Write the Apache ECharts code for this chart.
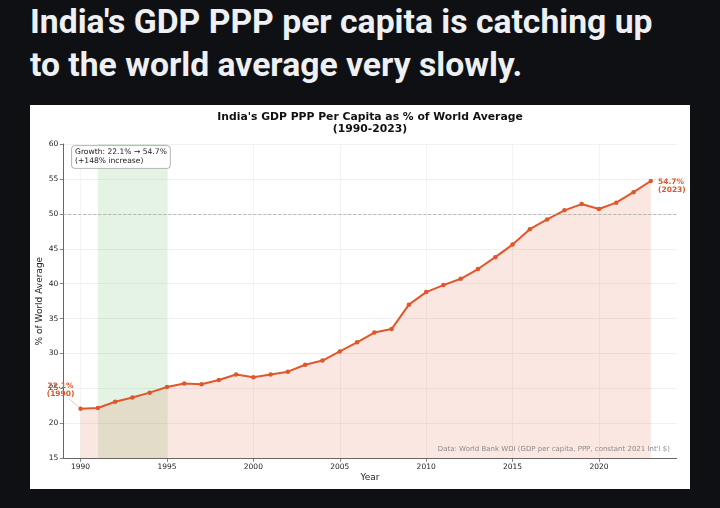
<!DOCTYPE html>
<html>
<head>
<meta charset="utf-8">
<script src="https://cdn.jsdelivr.net/npm/echarts@6/dist/echarts.min.js"></script>
<style>
  html, body { margin:0; padding:0; background:#0e1013; width:720px; height:508px; overflow:hidden; }
  #headline { position:absolute; left:30px; top:0px; width:690px; color:#eef0f3; white-space:nowrap;
    font-family: Roboto, "Noto Sans", sans-serif; font-weight:700; font-size:33.7px; line-height:43px; }
  #panel { position:absolute; left:30px; top:105px; width:660px; height:384px; background:#ffffff; }
  #chart { width:660px; height:384px; }
</style>
</head>
<body>
<div id="headline">India's GDP PPP per capita is catching up<br>to the world average very slowly.</div>
<div id="panel"><div id="chart"></div></div>
<script>
const years = [1990,1991,1992,1993,1994,1995,1996,1997,1998,1999,2000,2001,2002,2003,2004,2005,2006,2007,2008,2009,2010,2011,2012,2013,2014,2015,2016,2017,2018,2019,2020,2021,2022,2023];
const sharePct = [22.1,22.2,23.1,23.7,24.4,25.2,25.7,25.6,26.2,27.0,26.6,27.0,27.4,28.4,29.0,30.3,31.6,33.0,33.5,37.0,38.8,39.8,40.7,42.1,43.8,45.6,47.8,49.2,50.5,51.4,50.7,51.6,53.1,54.7];
const xTicks = [1990,1995,2000,2005,2010,2015,2020];
const highlightYears = [1991,1995];
const referenceLevel = 50;
const startLabel = '22.1%\n(1990)';
const endLabel = '54.7%\n(2023)';
const growthNote = 'Growth: 22.1% \u2192 54.7%\n(+148% increase)';
const chartTitle = "India's GDP PPP Per Capita as % of World Average\n(1990-2023)";
const sourceNote = "Data: World Bank WDI (GDP per capita, PPP, constant 2021 Int'l $)";

const lineColor = '#e0572b';
const font = '"DejaVu Sans", sans-serif';

const seriesData = years.map((y, i) => {
  const item = { value: [y, sharePct[i]] };
  if (i === 0) {
    item.label = { show: true, formatter: startLabel, position: 'top', offset: [-20, -3],
      color: lineColor, fontFamily: font, fontSize: 7.5, fontWeight: 'bold', lineHeight: 8.5, align: 'center' };
  }
  if (i === years.length - 1) {
    item.label = { show: true, formatter: endLabel, position: 'right', offset: [0, 5],
      color: lineColor, fontFamily: font, fontSize: 7.5, fontWeight: 'bold', lineHeight: 8.5, align: 'left' };
  }
  return item;
});

const chart = echarts.init(document.getElementById('chart'), null, { renderer: 'canvas' });
chart.setOption({
  backgroundColor: '#ffffff',
  animation: false,
  grid: { left: 33.3, right: 13.3, top: 39, bottom: 30.7, containLabel: false, outerBoundsMode: 'none' },
  xAxis: {
    type: 'value', min: 1989, max: 2024.5,
    name: 'Year', nameLocation: 'middle', nameGap: 15, nameMoveOverlap: false,
    nameTextStyle: { fontFamily: font, fontSize: 9, color: '#222' },
    axisLine: { show: true, lineStyle: { color: '#666', width: 1 } },
    axisTick: { show: true, customValues: xTicks, length: 3.5, lineStyle: { color: '#666', width: 0.8 } },
    axisLabel: { customValues: xTicks, fontFamily: font, fontSize: 7.5, color: '#222', margin: 5,
      formatter: v => String(v) },
    splitLine: { show: true, lineStyle: { color: '#f0f0f0', width: 0.8 } }
  },
  yAxis: {
    type: 'value', min: 15, max: 60, interval: 5,
    name: '% of World Average', nameLocation: 'middle', nameGap: 19, nameMoveOverlap: false,
    nameTextStyle: { fontFamily: font, fontSize: 9, color: '#222' },
    axisLine: { show: true, lineStyle: { color: '#666', width: 1 } },
    axisTick: { show: true, length: 3.5, lineStyle: { color: '#666', width: 0.8 } },
    axisLabel: { fontFamily: font, fontSize: 7.5, color: '#222', margin: 5 },
    splitLine: { show: true, lineStyle: { color: '#ececec', width: 0.8 } }
  },
  graphic: [
    { type: 'text', x: 340, y: 6, silent: true,
      style: { text: chartTitle, align: 'center', verticalAlign: 'top', fill: '#111',
        fontFamily: font, fontSize: 10.8, fontWeight: 'bold', lineHeight: 12 } },
    { type: 'text', x: 42, y: 41, silent: true, z: 100,
      style: { text: growthNote, align: 'left', verticalAlign: 'top', fill: '#222',
        fontFamily: font, fontSize: 7.6, lineHeight: 9,
        backgroundColor: 'rgba(255,255,255,0.9)', borderColor: '#aaaaaa', borderWidth: 0.8,
        borderRadius: 3, padding: [2, 3, 2, 3] } },
    { type: 'text', x: 640, y: 344, silent: true, z: 100,
      style: { text: sourceNote, align: 'right', verticalAlign: 'middle', fill: '#8a8a8a',
        fontFamily: font, fontSize: 7 } }
  ],
  series: [
    {
      type: 'line', name: 'band', data: [], silent: true,
      markArea: { silent: true, itemStyle: { color: 'rgba(44,160,44,0.13)' },
        data: [[{ xAxis: highlightYears[0] }, { xAxis: highlightYears[1] }]] }
    },
    {
      type: 'line', name: 'India', data: seriesData,
      symbol: 'circle', symbolSize: 4.5, clip: false,
      lineStyle: { color: lineColor, width: 2 },
      itemStyle: { color: lineColor },
      areaStyle: { color: 'rgba(228,87,46,0.2)', origin: 'start' },
      markLine: {
        silent: true, symbol: ['none', 'none'],
        label: { show: false },
        data: [
          { yAxis: referenceLevel, lineStyle: { color: '#aaaaaa', type: [3, 2], width: 0.8 } },
          [ { coord: [1989.3, 23.6], lineStyle: { color: 'rgba(224,87,43,0.5)', type: 'solid', width: 0.7 } },
            { coord: [years[0], sharePct[0]] } ]
        ]
      }
    }
  ]
});
</script>
</body>
</html>
